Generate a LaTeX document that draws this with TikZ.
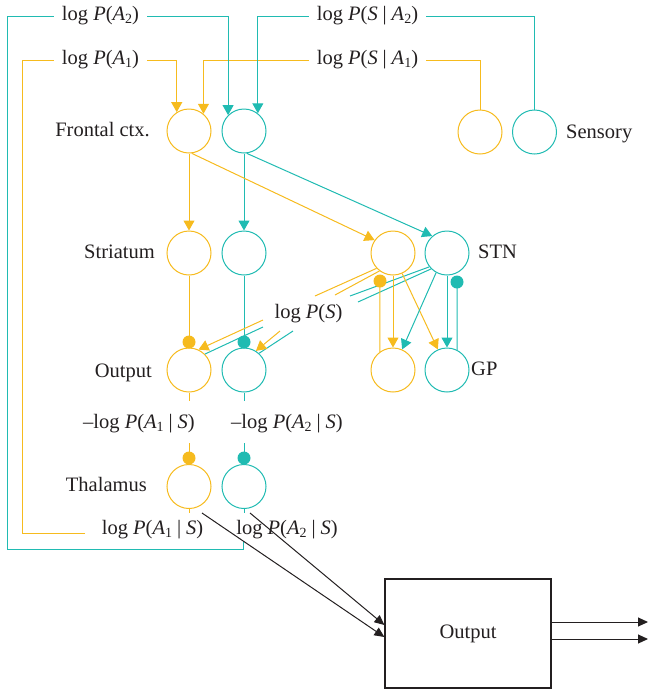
\documentclass[tikz,border=0pt]{standalone}
\usepackage{fontspec}
\setmainfont{Liberation Serif}
\usetikzlibrary{arrows.meta,calc}
\definecolor{cy}{RGB}{246,187,30}
\definecolor{ct}{RGB}{32,187,178}
\definecolor{ink}{RGB}{35,31,32}
\newcommand{\mysub}[1]{\raisebox{-0.32ex}{\fontsize{14}{14}\selectfont #1}}
\newcommand{\vb}{\hspace{0.24em}|\hspace{0.24em}}
\newcommand{\iP}{\textit{P}}
\begin{document}
\begin{tikzpicture}[x=1pt,y=-1pt,
  every node/.style={font=\fontsize{20.5}{24}\selectfont, text=ink},
  neur/.style={circle, draw, line width=1.0pt, minimum size=44pt, inner sep=0pt},
  ny/.style={neur, draw=cy},
  nt/.style={neur, draw=ct},
  ly/.style={line width=1.0pt, draw=cy},
  lt/.style={line width=1.0pt, draw=ct},
  tip/.style={-{Triangle[length=10pt,width=11pt]}},
  dotn/.style={circle, inner sep=0pt, minimum size=13pt},
  lbl/.style={inner xsep=8pt, inner ysep=2pt},
  reg/.style={inner sep=0pt},
  blk/.style={line width=1.0pt, draw=ink, -{Triangle[length=10pt,width=9pt]}},
]
\useasboundingbox (0,0) rectangle (648,689);

% neurons
\node[ny] (fy)  at (189,131) {};
\node[nt] (ft)  at (244,131) {};
\node[ny] (sey) at (480,132) {};
\node[nt] (set) at (534.5,132) {};
\node[ny] (sty) at (189,253) {};
\node[nt] (stt) at (244,253) {};
\node[ny] (ny1) at (393,253) {};
\node[nt] (nt1) at (447,253) {};
\node[ny] (oy)  at (189,370) {};
\node[nt] (ot)  at (244,370) {};
\node[ny] (gy)  at (393,370) {};
\node[nt] (gt)  at (447,370) {};
\node[ny] (thy) at (189,486.5) {};
\node[nt] (tht) at (244,486.5) {};

% region labels
\node[reg, anchor=east] (rF) at (150,130) {Frontal ctx.};
\node[reg, anchor=east] (rS) at (155,252) {Striatum};
\node[reg, anchor=base east] (rO) at (152,377) {Output};
\node[reg, anchor=east] (rT) at (147,484) {Thalamus};
\node[reg, anchor=west] (rN) at (478,252) {STN};
\node[reg, anchor=west] (rG) at (471,369) {GP};
\node[reg, anchor=base west] (rSe) at (566,138) {Sensory};

% formula labels
\node[lbl] (lA2)  at (100.5,16) {log \iP(\textit{A}\mysub{2})};
\node[lbl] (lA1)  at (100.5,60) {log \iP(\textit{A}\mysub{1})};
\node[lbl] (lSA2) at (367.5,16) {log \iP(\textit{S}\vb\textit{A}\mysub{2})};
\node[lbl] (lSA1) at (367.5,60) {log \iP(\textit{S}\vb\textit{A}\mysub{1})};
\node (mA1) at (139,424) {\textendash log \iP(\textit{A}\mysub{1}\vb\textit{S})};
\node (mA2) at (287,424) {\textendash log \iP(\textit{A}\mysub{2}\vb\textit{S})};
\node (bA1) at (152.5,530) {log \iP(\textit{A}\mysub{1}\vb\textit{S})};
\node (bA2) at (287,530) {log \iP(\textit{A}\mysub{2}\vb\textit{S})};
\node (lPS) at (308.5,314) {log \iP(\textit{S})};

% input arrows to frontal
\draw[ly,tip] (lA1.east) -| (fy.123);
\draw[ly,tip] (lSA1.west) -| (fy.50);
\draw[lt,tip] (lA2.east) -| (ft.135);
\draw[lt,tip] (lSA2.west) -| (ft.52);
% sensory
\draw[ly] (lSA1.east) -| (sey.north);
\draw[lt] (lSA2.east) -| (set.north);

% frontal -> striatum, STN
\draw[ly,tip] (fy.south) -- (sty.north);
\draw[lt,tip] (ft.south) -- (stt.north);
\draw[ly,tip] (fy.-83) -- (ny1.145);
\draw[lt,tip] (ft.-83) -- (nt1.131);

% striatum -> output (inhibitory)
\node[dotn, fill=cy] (dy1) at (189,342) {};
\node[dotn, fill=ct] (dt1) at (244,342) {};
\draw[ly] (sty.south) -- (dy1.center);
\draw[lt] (stt.south) -- (dt1.center);

% STN -> output through log P(S)
\coordinate (g1a) at (315,296); \coordinate (g1b) at (263,320);
\coordinate (g2a) at (335,295); \coordinate (g2b) at (280,331);
\coordinate (g3a) at (350,296); \coordinate (g3b) at (263,327);
\coordinate (g4a) at (358,302); \coordinate (g4b) at (293,331);
\draw[lt] (nt1.218) -- (g3a);
\draw[lt] (g3b) -- (oy.45);
\draw[lt] (nt1.225) -- (g4a);
\draw[lt] (g4b) -- (ot.48);
\draw[ly] (ny1.223) -- (g1a);
\draw[ly,tip] (g1b) -- (oy.65);
\draw[ly] (ny1.233) -- (g2a);
\draw[ly,tip] (g2b) -- (ot.58);

% STN <-> GP
\node[dotn, fill=cy] (dg1) at (380,281) {};
\node[dotn, fill=ct] (dg2) at (457,282) {};
\draw[ly] (gy.126) -- (dg1.center);
\draw[lt] (gt.63) -- (dg2.center);
\draw[ly,tip] (ny1.south) -- (gy.north);
\draw[ly,tip] (ny1.-66) -- (gt.114);
\draw[lt,tip] (nt1.241) -- (gy.66);
\draw[lt,tip] (nt1.south) -- (gt.north);

% output -> thalamus
\coordinate (oy1) at (189,401); \coordinate (ot1) at (244,401);
\coordinate (oy2) at (189,443); \coordinate (ot2) at (244,443);
\node[dotn, fill=cy] (dy2) at (189,458) {};
\node[dotn, fill=ct] (dt2) at (244,458) {};
\draw[ly] (oy.south) -- (oy1);
\draw[lt] (ot.south) -- (ot1);
\draw[ly] (dy2.center) -- (oy2);
\draw[lt] (dt2.center) -- (ot2);

% thalamus stubs and feedback loops
\coordinate (thy1) at (189,513);
\coordinate (tht1) at (244,513);
\draw[ly] (thy.south) -- (thy1);
\draw[lt] (tht.south) -- (tht1);
\coordinate (yl) at (85,533);
\draw[ly] (yl) -| (22,60) -- (lA1.west);
\coordinate (tl) at (243.5,541);
\draw[lt] (tl) |- (7,549) |- (lA2.west);

% output box
\node[draw=ink, line width=1.2pt, minimum width=166pt, minimum height=109pt, inner sep=0pt] (box) at (468,633.5) {Output};
\coordinate (t1) at (202,513);
\coordinate (t2) at (250,513);
\draw[blk] (t1) -- ($(box.west)+(0,3.5)$);
\draw[blk] (t2) -- ($(box.west)+(0,-8.5)$);
\coordinate (o1) at (648,622);
\coordinate (o2) at (648,639);
\draw[blk] ($(box.east)+(0,-11.5)$) -- (o1);
\draw[blk] ($(box.east)+(0,5.5)$) -- (o2);
\end{tikzpicture}
\end{document}
